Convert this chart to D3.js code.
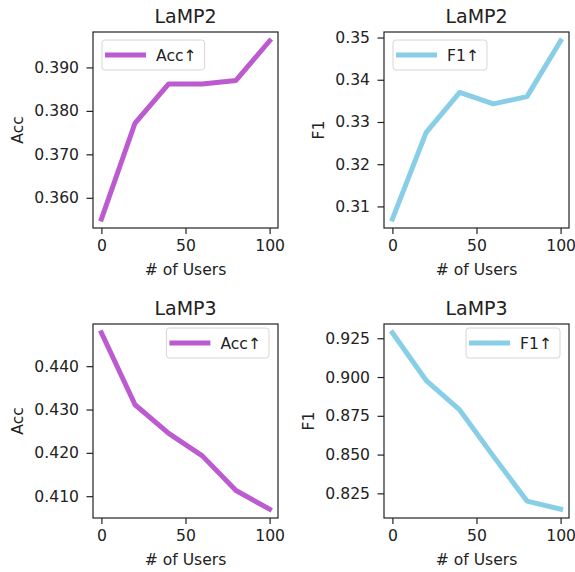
<!DOCTYPE html>
<html>
<head>
<meta charset="utf-8">
<script src="https://cdn.jsdelivr.net/npm/d3@7"></script>
<style>
  body { margin: 0; background: #fff; }
  text { font-family: "DejaVu Sans", sans-serif; fill: #222; }
</style>
</head>
<body>
<svg id="chart" width="575" height="572"></svg>
<script>
// ---------- data ----------
let users = [0, 20, 40, 60, 80, 100]
let lamp2Acc = [0.3551, 0.3772, 0.3862, 0.3862, 0.3870, 0.3961]
let lamp2F1 = [0.3070, 0.3275, 0.3370, 0.3343, 0.3360, 0.3492]
let lamp3Acc = [0.4477, 0.4311, 0.4245, 0.4193, 0.4113, 0.4070]
let lamp3F1 = [0.9285, 0.8979, 0.8788, 0.8490, 0.8200, 0.8148]

let xTicks = [0, 50, 100]
let lamp2AccTicks = [0.36, 0.37, 0.38, 0.39]
let lamp2F1Ticks = [0.31, 0.32, 0.33, 0.34, 0.35]
let lamp3AccTicks = [0.41, 0.42, 0.43, 0.44]
let lamp3F1Ticks = [0.825, 0.85, 0.875, 0.9, 0.925]

let purple = '#BC5AD0'
let blue = '#87CEE6'

// one entry per subplot
let panels = [
  {title: 'LaMP2', ylab: 'Acc', leg: 'Acc\u2191', vals: lamp2Acc, ticks: lamp2AccTicks, fmt: '.3f', color: purple,
   box: [93, 32, 185, 196], legPos: 'left'},
  {title: 'LaMP2', ylab: 'F1', leg: 'F1\u2191', vals: lamp2F1, ticks: lamp2F1Ticks, fmt: '.2f', color: blue,
   box: [384, 32, 185, 196], legPos: 'left'},
  {title: 'LaMP3', ylab: 'Acc', leg: 'Acc\u2191', vals: lamp3Acc, ticks: lamp3AccTicks, fmt: '.3f', color: purple,
   box: [93, 324, 185, 194], legPos: 'right'},
  {title: 'LaMP3', ylab: 'F1', leg: 'F1\u2191', vals: lamp3F1, ticks: lamp3F1Ticks, fmt: '.3f', color: blue,
   box: [384, 324, 185, 194], legPos: 'right'}
]

let svg = d3.select('#chart')
let fs = 15.6

function pad(ext) {
  let m = (ext[1] - ext[0]) * 0.05
  return [ext[0] - m, ext[1] + m]
}

function drawPanel(p) {
  let [bx, by, bw, bh] = p.box
  let g = svg.append('g')

  let x = d3.scaleLinear().domain(pad(d3.extent(users))).range([bx, bx + bw])
  let y = d3.scaleLinear().domain(pad(d3.extent(p.vals))).range([by + bh, by])

  // axes
  let xAxis = d3.axisBottom(x).tickValues(xTicks).tickSize(6).tickPadding(5.5)
  let yAxis = d3.axisLeft(y).tickValues(p.ticks).tickFormat(d3.format(p.fmt)).tickSize(6.5).tickPadding(7.5)

  let gx = g.append('g').attr('transform', `translate(0,${by + bh})`).call(xAxis)
  let gy = g.append('g').attr('transform', `translate(${bx},0)`).call(yAxis)
  for (let a of [gx, gy]) {
    a.select('.domain').remove()
    a.selectAll('line').attr('stroke', '#222').attr('stroke-width', 1.2)
    a.selectAll('text').attr('font-size', fs).attr('font-family', '"DejaVu Sans", sans-serif').attr('fill', '#222')
  }

  // line
  let line = d3.line().x((d, i) => x(users[i])).y(d => y(d))
  g.append('path')
    .datum(p.vals)
    .attr('d', line)
    .attr('fill', 'none')
    .attr('stroke', p.color)
    .attr('stroke-width', 5)
    .attr('stroke-linejoin', 'round')
    .attr('stroke-linecap', 'square')

  // frame
  g.append('rect')
    .attr('x', bx).attr('y', by).attr('width', bw).attr('height', bh)
    .attr('fill', 'none').attr('stroke', '#222').attr('stroke-width', 1.2)

  // title and labels
  g.append('text')
    .attr('x', bx + bw / 2).attr('y', by - 9)
    .attr('text-anchor', 'middle').attr('font-size', 19)
    .text(p.title)

  g.append('text')
    .attr('x', bx + bw / 2).attr('y', by + bh + 47)
    .attr('text-anchor', 'middle').attr('font-size', fs)
    .text('# of Users')

  let tickW = d3.max(gy.selectAll('text').nodes(), n => n.getComputedTextLength())
  let lx = bx - 6.5 - 7.5 - tickW - 11
  g.append('text')
    .attr('transform', `translate(${lx},${by + bh / 2}) rotate(-90)`)
    .attr('text-anchor', 'middle').attr('font-size', fs)
    .text(p.ylab)

  // legend
  let lg = g.append('g')
  let lt = lg.append('text').attr('font-size', fs).attr('dominant-baseline', 'central').text(p.leg)
  let tw = lt.node().getComputedTextLength()
  let lw = 3 + 41 + 10 + tw + 8
  let lh = 30
  let lx0 = p.legPos === 'left' ? bx + 9 : bx + bw - 9 - lw
  let ly0 = p.legPos === 'left' ? by + 8 : by + 4
  lg.insert('rect', 'text')
    .attr('x', lx0).attr('y', ly0).attr('width', lw).attr('height', lh)
    .attr('rx', 3).attr('fill', 'rgba(255,255,255,0.8)')
    .attr('stroke', '#d6d6d6').attr('stroke-width', 1)
  lg.append('line')
    .attr('x1', lx0 + 3).attr('x2', lx0 + 44)
    .attr('y1', ly0 + lh / 2).attr('y2', ly0 + lh / 2)
    .attr('stroke', p.color).attr('stroke-width', 5)
  lt.attr('x', lx0 + 54).attr('y', ly0 + lh / 2 + 1)
}

panels.forEach(drawPanel)
</script>
</body>
</html>
